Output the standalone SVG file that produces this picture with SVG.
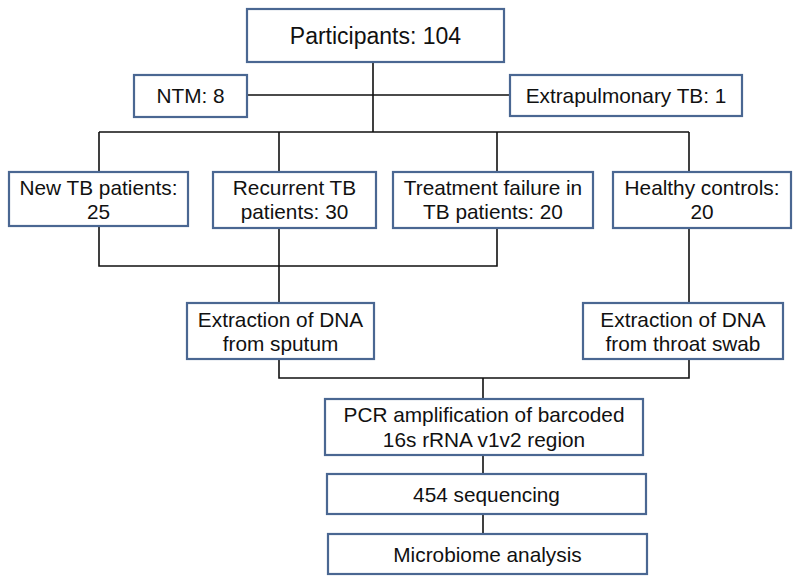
<svg xmlns="http://www.w3.org/2000/svg" width="800" height="584" viewBox="0 0 800 584">
<style>
.box{fill:#fff;stroke:#4a6792;stroke-width:2.2}
.ln{fill:none;stroke:#111;stroke-width:1.6}
text{font-family:"Liberation Sans",Arial,sans-serif;font-size:20.8px;fill:#111;text-anchor:middle}
</style>
<rect width="800" height="584" fill="#fff"/>
<g id="connectors">
<path class="ln" d="M373 62V132M247 95H510M99 132H689M99 132V172M279 132V172M497 132V172M689 132V172"/>
<path class="ln" d="M99 226V266H497V228M279 228V303M689 228V303"/>
<path class="ln" d="M279 359V378H689V359M483 378V399M483 455V474M483 514V534"/>
</g>
<g id="participants"><rect class="box" x="247" y="9" width="257" height="53"/><text x="375.5" y="44" style="font-size:23px">Participants: 104</text></g>
<g id="ntm"><rect class="box" x="134" y="75" width="113" height="42"/><text x="190.5" y="103">NTM: 8</text></g>
<g id="extrapulmonary"><rect class="box" x="510" y="75" width="232" height="41"/><text x="626" y="103">Extrapulmonary TB: 1</text></g>
<g id="newtb"><rect class="box" x="9" y="172" width="179" height="54"/><text x="98.5" y="195">New TB patients:</text><text x="98.5" y="219">25</text></g>
<g id="recurrent"><rect class="box" x="213" y="172" width="163" height="56"/><text x="294.5" y="195">Recurrent TB</text><text x="294.5" y="219">patients: 30</text></g>
<g id="failure"><rect class="box" x="393" y="172" width="200" height="56"/><text x="493" y="195">Treatment failure in</text><text x="493" y="219">TB patients: 20</text></g>
<g id="healthy"><rect class="box" x="613" y="172" width="178" height="56"/><text x="702" y="195">Healthy controls:</text><text x="702" y="219">20</text></g>
<g id="sputum"><rect class="box" x="187" y="303" width="187" height="56"/><text x="280.5" y="327">Extraction of DNA</text><text x="280.5" y="351">from sputum</text></g>
<g id="throat"><rect class="box" x="583" y="303" width="200" height="56"/><text x="683" y="327">Extraction of DNA</text><text x="683" y="351">from throat swab</text></g>
<g id="pcr"><rect class="box" x="325" y="399" width="318" height="56"/><text x="484" y="422">PCR amplification of barcoded</text><text x="484" y="447">16s rRNA v1v2 region</text></g>
<g id="sequencing"><rect class="box" x="327" y="474" width="319" height="40"/><text x="486.5" y="502">454 sequencing</text></g>
<g id="microbiome"><rect class="box" x="328" y="534" width="319" height="40"/><text x="487.5" y="562">Microbiome analysis</text></g>
</svg>
